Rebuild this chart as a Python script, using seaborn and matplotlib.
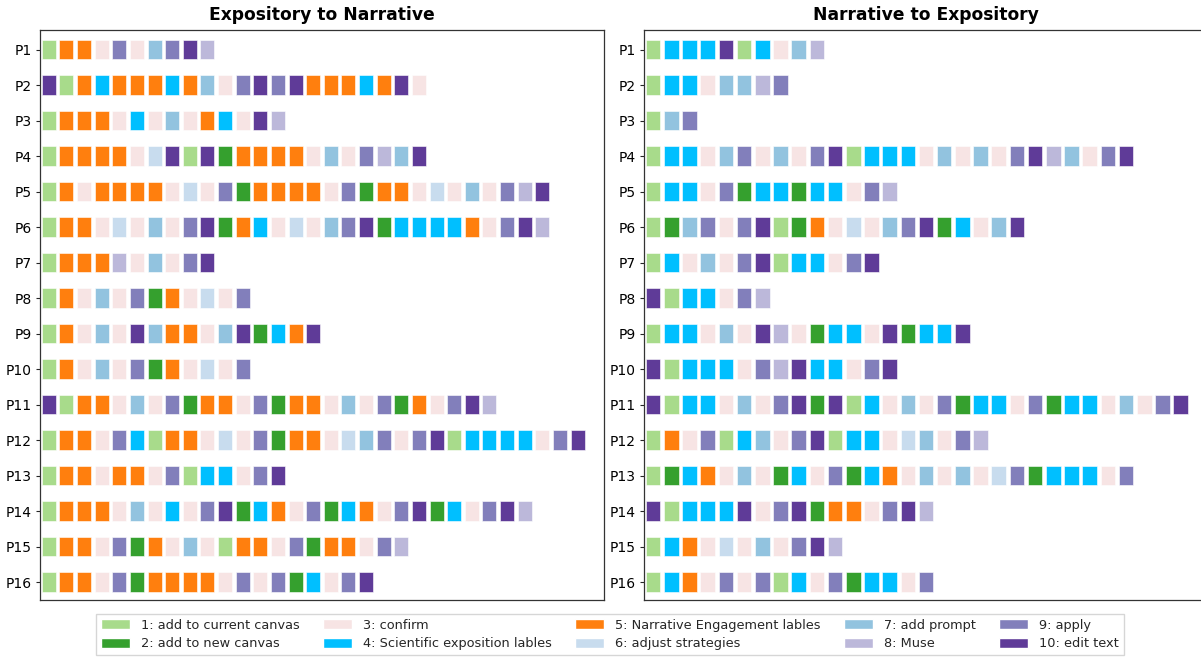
import matplotlib
matplotlib.use("Agg")
import matplotlib.pyplot as plt
import seaborn as sns
from matplotlib.patches import Patch

participants = [f"P{i}" for i in range(1, 17)]

action_labels = [
    "1: add to current canvas",
    "2: add to new canvas",
    "3: confirm",
    "4: Scientific exposition lables",
    "5: Narrative Engagement lables",
    "6: adjust strategies",
    "7: add prompt",
    "8: Muse",
    "9: apply",
    "10: edit text",
]
action_colors = [
    "#a8db8b", "#35a02e", "#f7e4e4", "#00bfff", "#ff7f0e",
    "#c8dcee", "#92c3df", "#bcb8da", "#827fbb", "#5f3b98",
]

# action sequences, one list per participant (codes 1..10)
expo_to_narr = [
    [1, 5, 5, 3, 9, 3, 7, 9, 10, 8],
    [10, 1, 5, 4, 5, 5, 5, 4, 5, 7, 3, 9, 10, 9, 10, 5, 5, 5, 4, 5, 10, 3],
    [1, 5, 5, 5, 3, 4, 3, 7, 3, 5, 4, 3, 10, 8],
    [1, 5, 5, 5, 5, 3, 6, 10, 1, 10, 2, 5, 5, 5, 5, 3, 7, 3, 9, 8, 7, 10],
    [1, 5, 3, 5, 5, 5, 5, 3, 6, 3, 9, 2, 5, 5, 5, 5, 3, 9, 2, 5, 5, 3, 6, 3, 7, 3, 9, 8, 10],
    [1, 5, 5, 3, 6, 3, 7, 3, 9, 10, 2, 5, 4, 3, 6, 3, 7, 9, 10, 2, 4, 4, 4, 4, 5, 3, 9, 10, 8],
    [1, 5, 5, 5, 8, 3, 7, 3, 9, 10],
    [1, 5, 3, 7, 3, 9, 2, 5, 3, 6, 3, 9],
    [1, 5, 3, 7, 3, 10, 7, 5, 5, 3, 7, 10, 2, 4, 5, 10],
    [1, 5, 3, 7, 3, 9, 2, 5, 3, 6, 3, 9],
    [10, 1, 5, 5, 3, 7, 3, 9, 2, 5, 5, 3, 9, 2, 5, 5, 3, 7, 3, 9, 2, 5, 3, 9, 10, 8],
    [1, 5, 5, 3, 9, 4, 1, 5, 5, 3, 6, 3, 9, 2, 5, 5, 3, 6, 7, 9, 3, 9, 10, 1, 4, 4, 4, 4, 3, 9, 10],
    [1, 5, 5, 3, 5, 5, 3, 9, 1, 4, 4, 3, 9, 10],
    [1, 5, 5, 5, 3, 7, 3, 4, 3, 9, 10, 2, 4, 5, 3, 9, 2, 4, 5, 3, 9, 10, 2, 4, 3, 9, 10, 8],
    [1, 5, 5, 3, 9, 2, 5, 3, 7, 3, 1, 5, 5, 3, 9, 2, 5, 5, 3, 9, 8],
    [1, 5, 5, 3, 9, 2, 5, 5, 5, 5, 3, 9, 3, 9, 2, 4, 3, 9, 10],
]
narr_to_expo = [
    [1, 4, 4, 4, 10, 1, 4, 3, 7, 8],
    [1, 4, 4, 3, 7, 7, 8, 9],
    [1, 7, 9],
    [1, 4, 4, 3, 7, 9, 3, 7, 3, 9, 10, 1, 4, 4, 4, 3, 7, 3, 7, 3, 9, 10, 8, 7, 3, 9, 10],
    [1, 4, 4, 3, 9, 2, 4, 4, 2, 4, 4, 3, 9, 8],
    [1, 2, 7, 9, 3, 9, 10, 1, 2, 5, 3, 6, 3, 7, 9, 10, 2, 4, 3, 7, 10],
    [1, 4, 3, 7, 3, 9, 10, 1, 4, 4, 3, 9, 10],
    [10, 1, 4, 4, 3, 9, 8],
    [1, 4, 4, 3, 7, 3, 10, 8, 3, 2, 4, 4, 3, 10, 2, 4, 4, 10],
    [10, 1, 4, 4, 4, 3, 9, 8, 10, 4, 4, 3, 9, 10],
    [10, 1, 4, 4, 3, 7, 3, 9, 10, 2, 10, 1, 4, 3, 7, 3, 9, 2, 4, 4, 3, 9, 2, 4, 4, 3, 7, 3, 9, 10],
    [1, 5, 3, 9, 1, 4, 7, 3, 9, 10, 1, 4, 4, 3, 6, 7, 3, 9, 8],
    [1, 2, 4, 5, 3, 7, 3, 2, 4, 3, 9, 2, 4, 5, 3, 7, 3, 7, 3, 6, 9, 2, 4, 4, 4, 3, 9],
    [10, 1, 4, 4, 4, 10, 3, 9, 10, 2, 5, 5, 3, 9, 10, 8],
    [1, 4, 5, 3, 6, 3, 7, 3, 9, 10, 8],
    [1, 4, 5, 3, 9, 3, 9, 1, 4, 3, 9, 2, 4, 4, 3, 9],
]


def draw_sequences(ax, seqs, title):
    for row, seq in enumerate(seqs):
        ax.barh(
            [row] * len(seq),
            [0.8] * len(seq),
            left=list(range(len(seq))),
            height=0.55,
            color=[action_colors[c - 1] for c in seq],
            edgecolor="white",
            linewidth=0.4,
        )
    longest = max(len(s) for s in seqs)
    ax.set_xlim(-0.1, longest + 0.9)
    ax.set_ylim(15.5, -0.55)
    ax.set_yticks(range(len(participants)))
    ax.set_yticklabels(participants, fontsize=10, color="black")
    ax.set_xticks([])
    ax.tick_params(axis="y", length=3, width=0.8, pad=3, left=True)
    ax.set_title(title, fontsize=12.3, fontweight="bold", pad=7, color="black")
    for spine in ax.spines.values():
        spine.set_visible(True)
        spine.set_color("#333333")
        spine.set_linewidth(0.9)


sns.set_style("white")
W, H = 1201, 658
fig = plt.figure(figsize=(W / 100, H / 100), dpi=100)
ax_left = fig.add_axes([40 / W, 1 - 600 / H, 564 / W, 570 / H])
ax_right = fig.add_axes([644 / W, 1 - 600 / H, 564 / W, 570 / H])

draw_sequences(ax_left, expo_to_narr, "Expository to Narrative")
draw_sequences(ax_right, narr_to_expo, "Narrative to Expository")

handles = [Patch(facecolor=c, label=l) for c, l in zip(action_colors, action_labels)]
fig.legend(
    handles=handles,
    ncol=5,
    loc="center",
    bbox_to_anchor=(610 / W, 1 - 634.5 / H),
    fontsize=9.3,
    frameon=True,
    edgecolor="#cccccc",
    handlelength=2.25,
    handleheight=0.75,
    handletextpad=0.85,
    columnspacing=1.8,
    labelspacing=0.45,
    borderpad=0.35,
    fancybox=False,
)

fig.savefig("out.png", dpi=100)
